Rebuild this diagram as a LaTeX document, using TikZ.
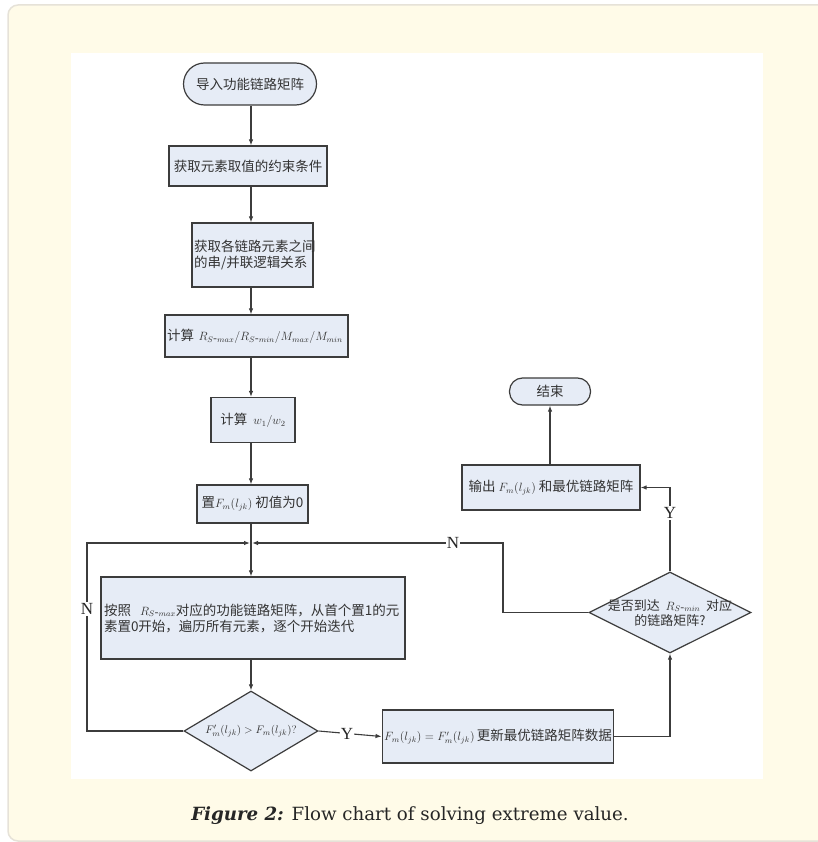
\documentclass[tikz,border=0pt]{standalone}
\usepackage{fontspec}
\newfontfamily\cjk{Noto Sans CJK SC}
\newfontfamily\capfont{DejaVu Serif}
\newfontfamily\labfont{Liberation Serif}
\usetikzlibrary{shapes.geometric,arrows.meta}
\definecolor{cream}{HTML}{FFFBE8}
\definecolor{framegray}{HTML}{E6E2D8}
\definecolor{boxfill}{HTML}{E6ECF6}
\definecolor{linec}{HTML}{3C3C3C}
\newcommand{\hy}{\mbox{-}}
\newcommand{\mth}[1]{{\fontsize{11.5}{14}\selectfont$#1$}}
\tikzset{
  base/.style={draw=linec, fill=boxfill, line width=1.2pt, inner sep=2pt,
    font=\cjk\fontsize{13.5}{17}\selectfont, text=black!80},
  proc/.style={base, rectangle},
  term/.style={base, rectangle, rounded corners=13pt},
  dec/.style={base, diamond, inner sep=0pt},
  conn/.style={draw=linec, line width=1.1pt},
  arr/.style={conn, -{Latex[length=6pt,width=4.5pt]}},
  lab/.style={fill=white, inner sep=1pt, font=\labfont\fontsize{17}{17}\selectfont, text=black!85},
  dtext/.style={font=\cjk\fontsize{13}{17}\selectfont, text=black!80, align=center}
}
\begin{document}
\begin{tikzpicture}[x=1pt,y=-1pt]
\useasboundingbox (0,0) rectangle (817,842);
\draw[fill=cream, draw=framegray, line width=1.5pt, rounded corners=10pt] (8,5) rectangle (845,841);
\fill[white] (71,53) rectangle (763,779);

\coordinate (col) at (251,0);
% nodes
\node[term, minimum width=133pt, minimum height=42pt, rounded corners=21pt] (start) at (250,84) {导入功能链路矩阵};
\node[proc, minimum width=158pt, minimum height=40pt] (b1) at (248,166) {获取元素取值的约束条件};
\node[proc, minimum width=121pt, minimum height=64pt, text width=117pt, align=left] (b2) at (252.5,255) {获取各链路元素之间\\[-1pt]的串/并联逻辑关系};
\node[proc, minimum width=183pt, minimum height=42pt, text width=179pt, align=left] (b3) at (256.5,336) {计算~\mth{R_{S\hy max}/R_{S\hy min}/M_{max}/M_{min}}};
\node[proc, minimum width=84pt, minimum height=45pt] (b4) at (253,420) {计算~~\mth{w_1/w_2}};
\node[proc, minimum width=111pt, minimum height=38pt] (b5) at (252.5,504) {置\mth{F_m(l_{jk})}~初值为0};
\coordinate (J) at (251,543);
\node[proc, minimum width=304pt, minimum height=82pt, text width=298pt, align=left] (b6) at (253,618) {按照~~\mth{R_{S\hy max}}对应的功能链路矩阵，从首个置1的元\\[-1pt]素置0开始，遍历所有元素，逐个开始迭代};
\node[dec, minimum width=134pt, minimum height=80pt] (d1) at (251,731) {};
\node[dtext, font=\fontsize{11}{14}\selectfont] (d1t) at (d1.center) {$F'_m(l_{jk}) > F_m(l_{jk})$?};
\node[proc, minimum width=230pt, minimum height=53pt] (b7) at (498,736.5) {\mth{F_m(l_{jk}) = F'_m(l_{jk})}\,更新最优链路矩阵数据};
\node[dec, minimum width=162pt, minimum height=81pt] (d2) at (670,612.5) {};
\node[dtext] (d2t) at (d2.center) {是否到达~~\mth{R_{S\hy min}}~~对应\\[-2pt]的链路矩阵?};
\node[proc, minimum width=178pt, minimum height=45pt] (b8) at (551,487.5) {输出~\mth{F_m(l_{jk})}~和最优链路矩阵};
\node[term, minimum width=81pt, minimum height=27pt] (end) at (550,391.5) {结束};

% connectors
\draw[arr] (start.south -| col) -- (b1.north -| col);
\draw[arr] (b1.south -| col) -- (b2.north -| col);
\draw[arr] (b2.south -| col) -- (b3.north -| col);
\draw[arr] (b3.south -| col) -- (b4.north -| col);
\draw[arr] (b4.south -| col) -- (b5.north -| col);
\draw[conn] (b5.south -| col) -- (J);
\draw[arr] (J) -- (b6.north -| J);
\draw[arr] (b6.south -| d1.north) -- (d1.north);
\draw[arr] (d1.east) -- (b7.west) node[lab, pos=0.45] (ylab1) {Y};
\coordinate (c1) at (670,736.5);
\draw[arr] (b7.east) -- (c1) -- (d2.south);
\coordinate (c2) at (670,487.5);
\draw[arr] (d2.north) -- (c2) -- (b8.east);
\node[lab] (ylab2) at (670,513) {Y};
\draw[arr] (b8.north -| end.south) -- (end.south);
\coordinate (c3) at (503,612.5);
\coordinate (c4) at (503,543);
\draw[arr] (d2.west) -- (c3) -- (c4) -- ([xshift=1pt]J);
\node[lab] (nlab1) at (453,543) {N};
\coordinate (c5) at (87,731);
\coordinate (c6) at (87,543);
\draw[arr] (d1.west) -- (c5) -- (c6) -- ([xshift=-1pt]J);
\node[lab] (nlab2) at (87,609) {N};

% caption
\node[font=\capfont\fontsize{18.2}{22}\selectfont, text=black!85] (cap) at (410,816) {\textbf{\textit{Figure 2:}} Flow chart of solving extreme value.};
\end{tikzpicture}
\end{document}
